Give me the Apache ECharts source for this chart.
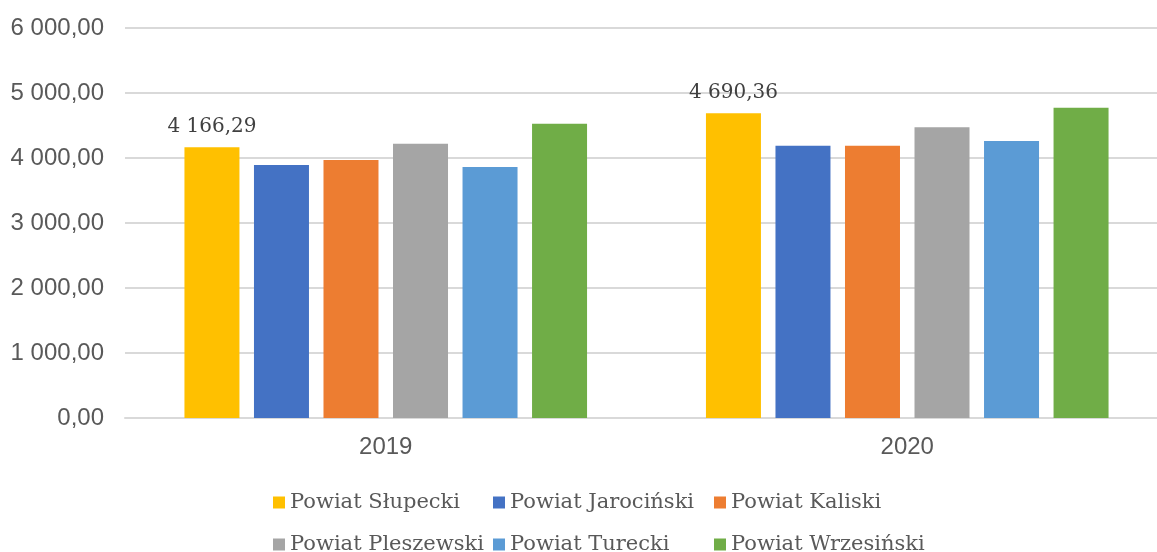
<!DOCTYPE html>
<html>
<head>
<meta charset="utf-8">
<script src="https://cdn.jsdelivr.net/npm/echarts@6/dist/echarts.min.js"></script>
<style>
  html, body { margin: 0; padding: 0; background: #fff; overflow: hidden; }
  /* the plot runs a little past the right edge, as in the reference */
  #chart { width: 1168px; height: 552px; }
</style>
</head>
<body>
<div id="chart"></div>
<script>
const years = ['2019', '2020'];
const powiaty = ['Powiat Słupecki', 'Powiat Jarociński', 'Powiat Kaliski',
  'Powiat Pleszewski', 'Powiat Turecki', 'Powiat Wrzesiński'];
const slupecki = [4166.29, 4690.36];
const jarocinski = [3892, 4189];
const kaliski = [3969, 4189];
const pleszewski = [4220, 4472];
const turecki = [3862, 4262];
const wrzesinski = [4528, 4774];
const colors = ['#FFC000', '#4472C4', '#ED7D31', '#A5A5A5', '#5B9BD5', '#70AD47'];

// 4166.29 -> "4 166,29"
function plNum (v) {
  const parts = v.toFixed(2).split('.');
  return parts[0].replace(/\B(?=(\d{3})+(?!\d))/g, ' ') + ',' + parts[1];
}

const values = [slupecki, jarocinski, kaliski, pleszewski, turecki, wrzesinski];
const series = powiaty.map((name, i) => ({
  name: name,
  type: 'bar',
  data: values[i],
  barWidth: 55,
  barGap: '26.4%',
  itemStyle: {color: colors[i]},
  label: i === 0 ? {
    show: true,
    position: 'top',
    distance: 10,
    fontFamily: 'DejaVu Serif',
    fontSize: 20,
    color: '#404040',
    formatter: p => plNum(p.value)
  } : {show: false}
}));

const legendPos = [[268, 487], [488, 487], [709, 487], [268, 529], [488, 529], [709, 529]];
const legends = powiaty.map((name, i) => ({
  data: [name],
  left: legendPos[i][0],
  top: legendPos[i][1],
  icon: 'rect',
  itemWidth: 12,
  itemHeight: 12,
  padding: 5,
  textStyle: {fontFamily: 'DejaVu Serif', fontSize: 21, color: '#595959'}
}));

const chart = echarts.init(document.getElementById('chart'));
chart.setOption({
  animation: false,
  grid: {left: 125, top: 28, right: 0, height: 390},
  legend: legends,
  xAxis: {
    type: 'category',
    data: years,
    axisLine: {lineStyle: {color: '#D9D9D9', width: 2}},
    axisTick: {show: false},
    axisLabel: {fontFamily: 'Liberation Sans', fontSize: 24, color: '#595959', margin: 17}
  },
  yAxis: {
    type: 'value',
    min: 0,
    max: 6000,
    interval: 1000,
    axisLine: {show: false},
    axisTick: {show: false},
    splitLine: {lineStyle: {color: '#D9D9D9', width: 2}},
    axisLabel: {
      fontFamily: 'Liberation Sans', fontSize: 24, color: '#595959', margin: 21,
      formatter: v => plNum(v)
    }
  },
  series: series
});
</script>
</body>
</html>
